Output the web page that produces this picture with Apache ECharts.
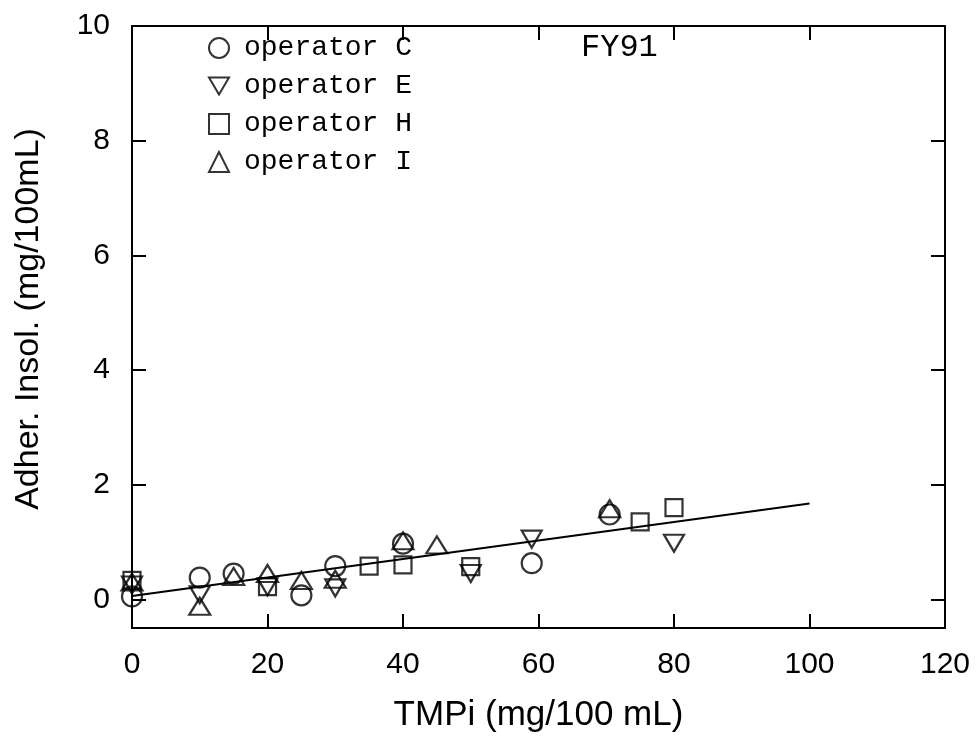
<!DOCTYPE html>
<html>
<head>
<meta charset="utf-8">
<script src="https://cdn.jsdelivr.net/npm/echarts@6/dist/echarts.min.js"></script>
<style>html,body{margin:0;padding:0;background:#fff}#c{width:976px;height:742px}</style>
</head>
<body>
<div id="c"></div>
<script>
// ---- data ----
const opC_x = [0, 10, 15, 25, 30, 40, 59, 70.5];
const opC_y = [0.05, 0.38, 0.45, 0.07, 0.58, 0.97, 0.63, 1.48];
const opE_x = [0, 10, 20, 30, 50, 59, 80];
const opE_y = [0.25, 0.08, 0.22, 0.2, 0.45, 1.05, 0.98];
const opH_x = [0, 20, 35, 40, 50, 75, 80];
const opH_y = [0.33, 0.22, 0.58, 0.6, 0.57, 1.35, 1.6];
const opI_x = [0, 10, 15, 20, 25, 30, 40, 45, 70.5];
const opI_y = [0.3, -0.12, 0.4, 0.45, 0.33, 0.35, 1.02, 0.95, 1.58];
const fit_x = [0, 100];
const fit_y = [0.06, 1.67];
const xTicks = [0, 20, 40, 60, 80, 100, 120];
const yTicks = [0, 2, 4, 6, 8, 10];
const seriesNames = ['operator C', 'operator E', 'operator H', 'operator I'];
const panelLabel = 'FY91';

const zip = (xs, ys) => xs.map((x, i) => [x, ys[i]]);
const hollow = { color: 'rgba(255,255,255,0)', borderColor: '#000', borderWidth: 2.2 };
const sansFont = '"Liberation Sans", Arial, sans-serif';
const monoFont = '"Liberation Mono", "DejaVu Sans Mono", monospace';
const axisLine = { show: true, onZero: false, lineStyle: { color: '#000', width: 2 } };

const chart = echarts.init(document.getElementById('c'), null, { renderer: 'canvas' });
chart.setOption({
  animation: false,
  backgroundColor: '#fff',
  grid: { left: 132, right: 31, top: 26, bottom: 114 },
  title: {
    text: panelLabel, left: 576, top: 27,
    textStyle: { fontFamily: monoFont, fontSize: 32, fontWeight: 'normal', color: '#000' }
  },
  legend: {
    data: seriesNames,
    orient: 'vertical', left: 203, top: 29,
    itemWidth: 20, itemHeight: 20, itemGap: 10,
    textStyle: { fontFamily: monoFont, fontSize: 28, color: '#000', padding: [0, 0, 0, 10] }
  },
  xAxis: [{
    type: 'value', min: 0, max: 120, interval: 20, position: 'bottom',
    name: 'TMPi (mg/100 mL)', nameLocation: 'middle', nameGap: 70,
    nameTextStyle: { fontFamily: sansFont, fontSize: 35, color: '#000' },
    axisLine: axisLine,
    axisTick: { show: true, inside: true, length: 14, lineStyle: { color: '#000', width: 2 } },
    axisLabel: { fontFamily: sansFont, fontSize: 30, color: '#000', margin: 22,
      customValues: xTicks },
    splitLine: { show: false }
  }, {
    type: 'value', min: 0, max: 120, interval: 20, position: 'top',
    axisLine: axisLine,
    axisTick: { show: true, inside: true, length: 14, lineStyle: { color: '#000', width: 2 } },
    axisLabel: { show: false }, splitLine: { show: false }
  }],
  yAxis: [{
    type: 'value', min: -0.5, max: 10, position: 'left',
    name: 'Adher. Insol. (mg/100mL)', nameLocation: 'middle', nameGap: 86, nameRotate: 90,
    nameTextStyle: { fontFamily: sansFont, fontSize: 34, color: '#000', padding: [0, 0, 0, 16] },
    axisLine: axisLine,
    axisTick: { show: true, inside: true, length: 14, lineStyle: { color: '#000', width: 2 }, customValues: yTicks },
    axisLabel: { fontFamily: sansFont, fontSize: 30, color: '#000', margin: 22, customValues: yTicks },
    splitLine: { show: false }
  }, {
    type: 'value', min: -0.5, max: 10, position: 'right',
    axisLine: axisLine,
    axisTick: { show: true, inside: true, length: 14, lineStyle: { color: '#000', width: 2 }, customValues: yTicks },
    axisLabel: { show: false }, splitLine: { show: false }
  }],
  series: [
    { name: seriesNames[0], type: 'scatter', symbol: 'circle', symbolSize: 20,
      itemStyle: hollow, data: zip(opC_x, opC_y) },
    { name: seriesNames[1], type: 'scatter', symbol: 'path://M0,0L20,0L10,17Z', symbolSize: [20, 17],
      itemStyle: hollow, data: zip(opE_x, opE_y) },
    { name: seriesNames[2], type: 'scatter', symbol: 'rect', symbolSize: 17,
      itemStyle: hollow, data: zip(opH_x, opH_y) },
    { name: seriesNames[3], type: 'scatter', symbol: 'triangle', symbolSize: [21, 17],
      itemStyle: hollow, data: zip(opI_x, opI_y) },
    { name: 'fit', type: 'line', symbol: 'none', silent: true,
      lineStyle: { color: '#000', width: 2 }, data: zip(fit_x, fit_y), z: 1 }
  ]
});
</script>
</body>
</html>
